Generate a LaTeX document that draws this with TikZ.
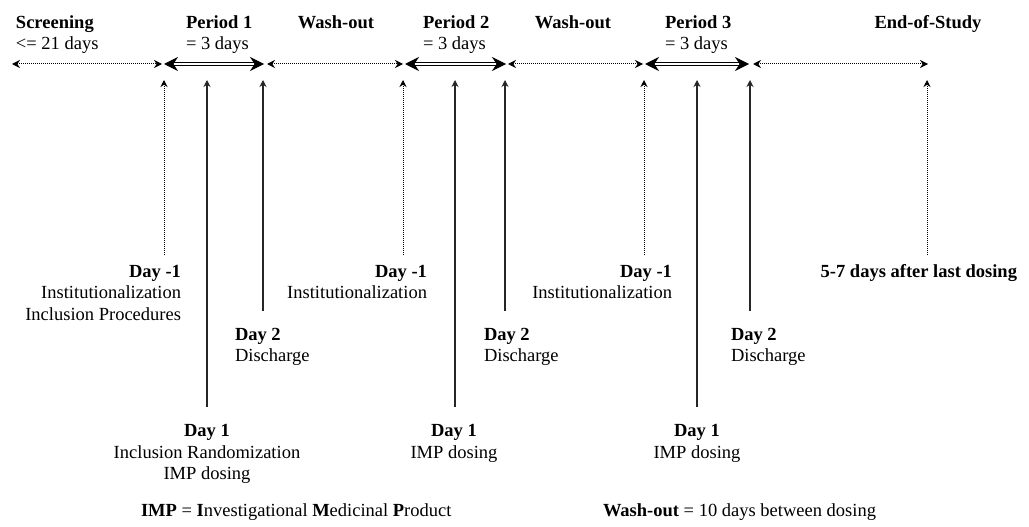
\documentclass[tikz,border=0pt]{standalone}
\usepackage{fontspec}
\setmainfont{Liberation Serif}
\usetikzlibrary{arrows.meta}
\begin{document}
\begin{tikzpicture}[x=1pt,y=-1pt,
  txt/.style={inner sep=0pt, outer sep=0pt, font=\fontsize{18.5}{21.5}\selectfont},
  dotarrow/.style={densely dotted, line width=1pt, {Stealth[length=8pt,width=8pt]}-{Stealth[length=8pt,width=8pt]}},
  perarrow/.style={double, double distance=2.4pt, line width=1pt, {Stealth[length=14pt,width=14pt]}-{Stealth[length=14pt,width=14pt]}},
  updot/.style={densely dotted, line width=1pt, -{Stealth[length=7pt,width=7pt]}},
  upsolid/.style={line width=1.3pt, black!85, -{Stealth[length=7pt,width=7pt]}}]
\useasboundingbox (0,0) rectangle (1029,527);
% timeline points
\coordinate (s0) at (12,64);   \coordinate (s1) at (162,64);
\coordinate (p1a) at (164,64); \coordinate (p1b) at (264,64);
\coordinate (w1a) at (267,64); \coordinate (w1b) at (403,64);
\coordinate (p2a) at (405,64); \coordinate (p2b) at (506,64);
\coordinate (w2a) at (508,64); \coordinate (w2b) at (643,64);
\coordinate (p3a) at (645,64); \coordinate (p3b) at (749,64);
\coordinate (ea) at (753,64);  \coordinate (eb) at (928,64);
\draw[dotarrow] (s0) -- (s1);
\draw[perarrow] (p1a) -- (p1b);
\draw[dotarrow] (w1a) -- (w1b);
\draw[perarrow] (p2a) -- (p2b);
\draw[dotarrow] (w2a) -- (w2b);
\draw[perarrow] (p3a) -- (p3b);
\draw[dotarrow] (ea) -- (eb);
% top labels (base anchor = baseline of last line)
\node[txt, anchor=base west, align=left] (scr) at (16,50) {\textbf{Screening}\\<= 21 days};
\node[txt, anchor=base west, align=left] (per1) at (186,50) {\textbf{Period 1}\\= 3 days};
\node[txt, anchor=base] (wo1) at (336,28.3) {\textbf{Wash-out}};
\node[txt, anchor=base west, align=left] (per2) at (423,50) {\textbf{Period 2}\\= 3 days};
\node[txt, anchor=base] (wo2) at (573,28.3) {\textbf{Wash-out}};
\node[txt, anchor=base west, align=left] (per3) at (665,50) {\textbf{Period 3}\\= 3 days};
\node[txt, anchor=base] (eos) at (928,28.3) {\textbf{End-of-Study}};
% vertical arrow ends
\coordinate (a1t) at (164,80);  \coordinate (a1b) at (164,255);
\coordinate (b1t) at (207,80);  \coordinate (b1b) at (207,407);
\coordinate (c1t) at (263,80);  \coordinate (c1b) at (263,311);
\coordinate (a2t) at (403,80);  \coordinate (a2b) at (403,255);
\coordinate (b2t) at (455,80);  \coordinate (b2b) at (455,407);
\coordinate (c2t) at (505,80);  \coordinate (c2b) at (505,311);
\coordinate (a3t) at (644,80);  \coordinate (a3b) at (644,255);
\coordinate (b3t) at (697,80);  \coordinate (b3b) at (697,407);
\coordinate (c3t) at (750,80);  \coordinate (c3b) at (750,311);
\coordinate (et) at (927,80);   \coordinate (eb2) at (927,255);
\draw[updot] (a1b) -- (a1t);
\draw[upsolid] (b1b) -- (b1t);
\draw[upsolid] (c1b) -- (c1t);
\draw[updot] (a2b) -- (a2t);
\draw[upsolid] (b2b) -- (b2t);
\draw[upsolid] (c2b) -- (c2t);
\draw[updot] (a3b) -- (a3t);
\draw[upsolid] (b3b) -- (b3t);
\draw[upsolid] (c3b) -- (c3t);
\draw[updot] (eb2) -- (et);
% bottom labels
\node[txt, anchor=base east, align=right] (dm1a) at (181,320) {\textbf{Day -1}\\Institutionalization\\Inclusion Procedures};
\node[txt, anchor=base east, align=right] (dm1b) at (427,298.5) {\textbf{Day -1}\\Institutionalization};
\node[txt, anchor=base east, align=right] (dm1c) at (672,298.5) {\textbf{Day -1}\\Institutionalization};
\node[txt, anchor=base west, align=left] (d2a) at (235,361.5) {\textbf{Day 2}\\Discharge};
\node[txt, anchor=base west, align=left] (d2b) at (484,361.5) {\textbf{Day 2}\\Discharge};
\node[txt, anchor=base west, align=left] (d2c) at (731,361.5) {\textbf{Day 2}\\Discharge};
\node[txt, anchor=base, align=center] (d1a) at (207,479.7) {\textbf{Day 1}\\Inclusion Randomization\\IMP dosing};
\node[txt, anchor=base, align=center] (d1b) at (454,458.2) {\textbf{Day 1}\\IMP dosing};
\node[txt, anchor=base, align=center] (d1c) at (697,458.2) {\textbf{Day 1}\\IMP dosing};
\node[txt, anchor=base east] (eosl) at (1017,277) {\textbf{5-7 days after last dosing}};
% legend
\node[txt, anchor=base west] (leg1) at (141,516.7) {\textbf{IMP} = \textbf{I}nvestigational \textbf{M}edicinal \textbf{P}roduct};
\node[txt, anchor=base west] (leg2) at (603,516.7) {\textbf{Wash-out} = 10 days between dosing};
\end{tikzpicture}
\end{document}
